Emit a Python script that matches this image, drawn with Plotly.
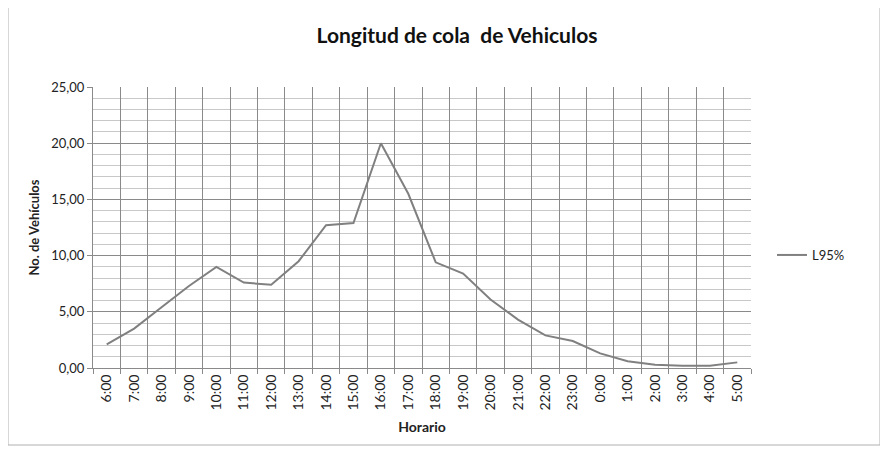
import plotly.graph_objects as go

horario = ["6:00", "7:00", "8:00", "9:00", "10:00", "11:00", "12:00", "13:00",
           "14:00", "15:00", "16:00", "17:00", "18:00", "19:00", "20:00", "21:00",
           "22:00", "23:00", "0:00", "1:00", "2:00", "3:00", "4:00", "5:00"]
l95 = [2.1, 3.5, 5.4, 7.3, 9.0, 7.6, 7.4, 9.5, 12.7, 12.9, 20.0, 15.5,
       9.4, 8.4, 6.1, 4.3, 2.9, 2.4, 1.3, 0.6, 0.3, 0.2, 0.2, 0.5]

OFF = 8  # page body margin
W, H = 888, 454
L, R, T, B = 93 - OFF, 751 - OFF, 87 - OFF, 368 - OFF
pw, ph = R - L, B - T

def px(x):
    return (x - OFF - L) / pw

def py(y):
    return (B - (y - OFF)) / ph

font = "Lato, Open Sans, sans-serif"

fig = go.Figure()
fig.add_trace(go.Scatter(x=horario, y=l95, mode="lines", name="L95%",
                         line=dict(color="#808080", width=2)))

fig.update_layout(
    width=W, height=H,
    margin=dict(l=L, r=W - R, t=T, b=H - B, autoexpand=False),
    paper_bgcolor="white", plot_bgcolor="white",
    separators=", ",
    font=dict(family=font, size=12, color="#222"),
    title=dict(text="<b>Longitud de cola  de Vehiculos</b>", x=px(457), xref="paper",
               xanchor="center", y=1 - (36 - OFF) / H, yanchor="middle",
               font=dict(size=21, color="#111", family=font)),
    showlegend=True,
    legend=dict(x=px(772), y=py(255), xanchor="left", yanchor="middle",
                bgcolor="rgba(0,0,0,0)", font=dict(size=13, color="#222"),
                itemwidth=30),
    xaxis=dict(
        type="category", tickson="boundaries", range=[-0.5, len(horario) - 0.5],
        automargin=False, showgrid=True,
        gridcolor="#8a8a8a", gridwidth=1, showline=True, linecolor="#8a8a8a",
        ticks="outside", ticklen=5, tickcolor="#8a8a8a", tickangle=-90,
        tickfont=dict(size=14, color="#222"), mirror=False,
        title=dict(text="<b>Horario</b>", standoff=12, font=dict(size=14, color="#222")),
    ),
    yaxis=dict(
        range=[0, 25], dtick=5, tickformat=".2f", showgrid=True, automargin=False,
        gridcolor="#8a8a8a", gridwidth=1, showline=True, linecolor="#8a8a8a",
        ticks="outside", ticklen=5, tickcolor="#8a8a8a", zeroline=False,
        tickfont=dict(size=13, color="#222"),
        minor=dict(dtick=1, showgrid=True, gridcolor="#c8c8c8", gridwidth=1),
        title=dict(text="<b>No. de Vehículos</b>", standoff=8, font=dict(size=13, color="#222")),
    ),
)

fig.add_shape(type="rect", xref="paper", yref="paper",
              x0=px(8), x1=px(880), y0=py(445), y1=py(7),
              line=dict(color="#b0b0b0", width=1), fillcolor="rgba(0,0,0,0)",
              layer="below")

fig.write_html("out.html")
